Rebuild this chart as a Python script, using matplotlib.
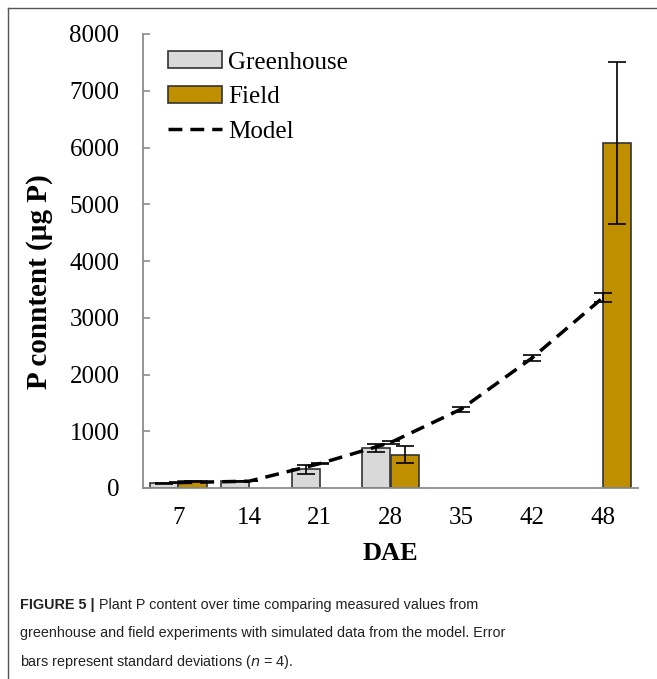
import numpy as np
import matplotlib
matplotlib.use("Agg")
import matplotlib.pyplot as plt
from matplotlib.patches import Patch
from matplotlib.lines import Line2D

# plant P content by days after emergence
dae = ['7', '14', '21', '28', '35', '42', '48']
greenhouse = [80, 120, 330, 705, np.nan, np.nan, np.nan]
greenhouse_sd = [5, 10, 75, 65, np.nan, np.nan, np.nan]
field = [115, np.nan, np.nan, 590, np.nan, np.nan, 6080]
field_sd = [10, np.nan, np.nan, 147, np.nan, np.nan, 1430]
model = [95, 120, 430, 800, 1390, 2290, 3350]
model_sd = [5, 5, 10, 20, 45, 60, 80]

plt.rcParams['font.family'] = ['Liberation Serif', 'DejaVu Serif']

fig = plt.figure(figsize=(6.57, 6.79), dpi=100)
ax = fig.add_axes([143/657, 1-488/679, 495/657, 454/679])

x = np.arange(len(dae))
w = 0.4
ax.bar(x - w/2, greenhouse, w, color='#d9d9d9', edgecolor='#333333', linewidth=1.2, zorder=2)
ax.bar(x + w/2, field, w, color='#bf8f00', edgecolor='#333333', linewidth=1.2, zorder=2)
ax.errorbar(x - w/2, greenhouse, yerr=greenhouse_sd, fmt='none', ecolor='black',
            elinewidth=1.2, capsize=6.5, capthick=1.2, zorder=3)
ax.errorbar(x + w/2, field, yerr=field_sd, fmt='none', ecolor='black',
            elinewidth=1.2, capsize=6.5, capthick=1.2, zorder=3)
ax.plot(x, model, color='black', linewidth=2.5, dashes=(4, 2.3), zorder=4)
ax.errorbar(x, model, yerr=model_sd, fmt='none', ecolor='black',
            elinewidth=1.2, capsize=6.5, capthick=1.2, zorder=4)

ax.set_xlim(-0.5, 6.5)
ax.set_ylim(0, 8000)
ax.set_yticks(range(0, 8001, 1000))
ax.set_xticks(x)
ax.set_xticklabels(dae)
for s in ['top', 'right']:
    ax.spines[s].set_visible(False)
for s in ['left', 'bottom']:
    ax.spines[s].set_color('#8c8c8c')
    ax.spines[s].set_linewidth(1.3)
ax.tick_params(axis='y', direction='in', length=5, width=1.2, color='#8c8c8c',
               labelsize=18, pad=17)
ax.tick_params(axis='x', length=0, labelsize=18, pad=14)

ax.set_xlabel('DAE', fontsize=19, fontweight='bold', labelpad=9)
ax.set_ylabel('P conntent (µg P)', fontsize=21, fontweight='bold')
ax.yaxis.set_label_coords(-0.182, 0.455)

handles = [Patch(facecolor='#d9d9d9', edgecolor='#333333', linewidth=1.2),
           Patch(facecolor='#bf8f00', edgecolor='#333333', linewidth=1.2),
           Line2D([0], [0], color='black', linewidth=2.5, dashes=(4, 2.3))]
ax.legend(handles, ['Greenhouse', 'Field', 'Model'], loc='upper left',
          bbox_to_anchor=(0.015, 1.0), frameon=False, fontsize=18,
          handlelength=2.15, handleheight=0.64, labelspacing=0.5, handletextpad=0.25,
          borderaxespad=0.3)

# frame lines of the figure panel
fig.add_artist(Line2D([8/657, 1], [1-8/679, 1-8/679], color='#555555', linewidth=1.0))
fig.add_artist(Line2D([8/657, 8/657], [0, 1-8/679], color='#555555', linewidth=1.0))

# caption: bold figure number, then the running text
cap_font = ['Liberation Sans', 'DejaVu Sans']
cap_size = 10.4
head = fig.text(20/657, 1-605/679, 'FIGURE 5 |', fontsize=cap_size, fontweight='bold',
                family=cap_font, va='center', color='#222222')
renderer = fig.canvas.get_renderer()
hx = fig.transFigure.inverted().transform(head.get_window_extent(renderer))[1][0]
fig.text(hx + 4/657, 1-605/679, 'Plant P content over time comparing measured values from',
         fontsize=cap_size, family=cap_font, va='center', color='#222222')
fig.text(20/657, 1-633/679,
         'greenhouse and field experiments with simulated data from the model. Error',
         fontsize=cap_size, family=cap_font, va='center', color='#222222')
fig.text(20/657, 1-662/679, 'bars represent standard deviations ($\\it{n}$ = 4).',
         fontsize=cap_size, family=cap_font, va='center', color='#222222')

fig.savefig('out.png', dpi=100)
